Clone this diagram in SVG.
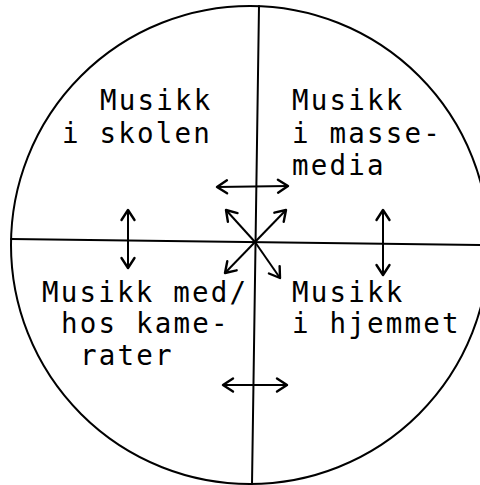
<svg xmlns="http://www.w3.org/2000/svg" width="480" height="485" viewBox="0 0 480 485">
<style>
.ln{stroke:#000;stroke-width:2;fill:none;stroke-linecap:round}
.ar{stroke:#000;stroke-width:2;fill:none;marker-end:url(#ah)}
.dar{stroke:#000;stroke-width:2;fill:none;marker-start:url(#ah);marker-end:url(#ah)}
text{font-family:"DejaVu Sans Mono","Liberation Mono",monospace;font-size:27.5px;letter-spacing:2.2px;fill:#000}
</style>
<defs>
<marker id="ah" markerUnits="userSpaceOnUse" markerWidth="18" markerHeight="18" refX="12" refY="8" orient="auto-start-reverse" viewBox="0 0 18 16">
<path d="M2,1.5 L12,8 L2,14.5" fill="none" stroke="#000" stroke-width="2.4" stroke-linecap="round" stroke-linejoin="round"/>
</marker>
</defs>
<rect width="480" height="485" fill="#fff"/>
<g id="frame">
<circle class="ln" cx="250" cy="245" r="239"/>
<line class="ln" x1="259" y1="6" x2="252" y2="484"/>
<line class="ln" x1="11" y1="239" x2="480" y2="245"/>
</g>
<g id="connectors">
<line class="dar" x1="217" y1="187" x2="288" y2="186"/>
<line class="dar" x1="223" y1="385" x2="287" y2="385"/>
<line class="dar" x1="128" y1="210" x2="128" y2="268"/>
<line class="dar" x1="383" y1="210" x2="383" y2="275"/>
<line class="ar" x1="255" y1="242" x2="226" y2="210"/>
<line class="ar" x1="255" y1="242" x2="286" y2="210"/>
<line class="ar" x1="255" y1="242" x2="225" y2="273"/>
<line class="ar" x1="255" y1="242" x2="280" y2="278"/>
</g>
<g id="skolen">
<text x="100" y="110">Musikk</text>
<text x="62" y="143">i skolen</text>
</g>
<g id="massemedia">
<text x="292" y="110">Musikk</text>
<text x="292" y="143">i masse-</text>
<text x="292" y="175">media</text>
</g>
<g id="kamerater">
<text x="42" y="302">Musikk med/</text>
<text x="61" y="333">hos kame-</text>
<text x="80" y="365">rater</text>
</g>
<g id="hjemmet">
<text x="292" y="302">Musikk</text>
<text x="292" y="333">i hjemmet</text>
</g>
</svg>
